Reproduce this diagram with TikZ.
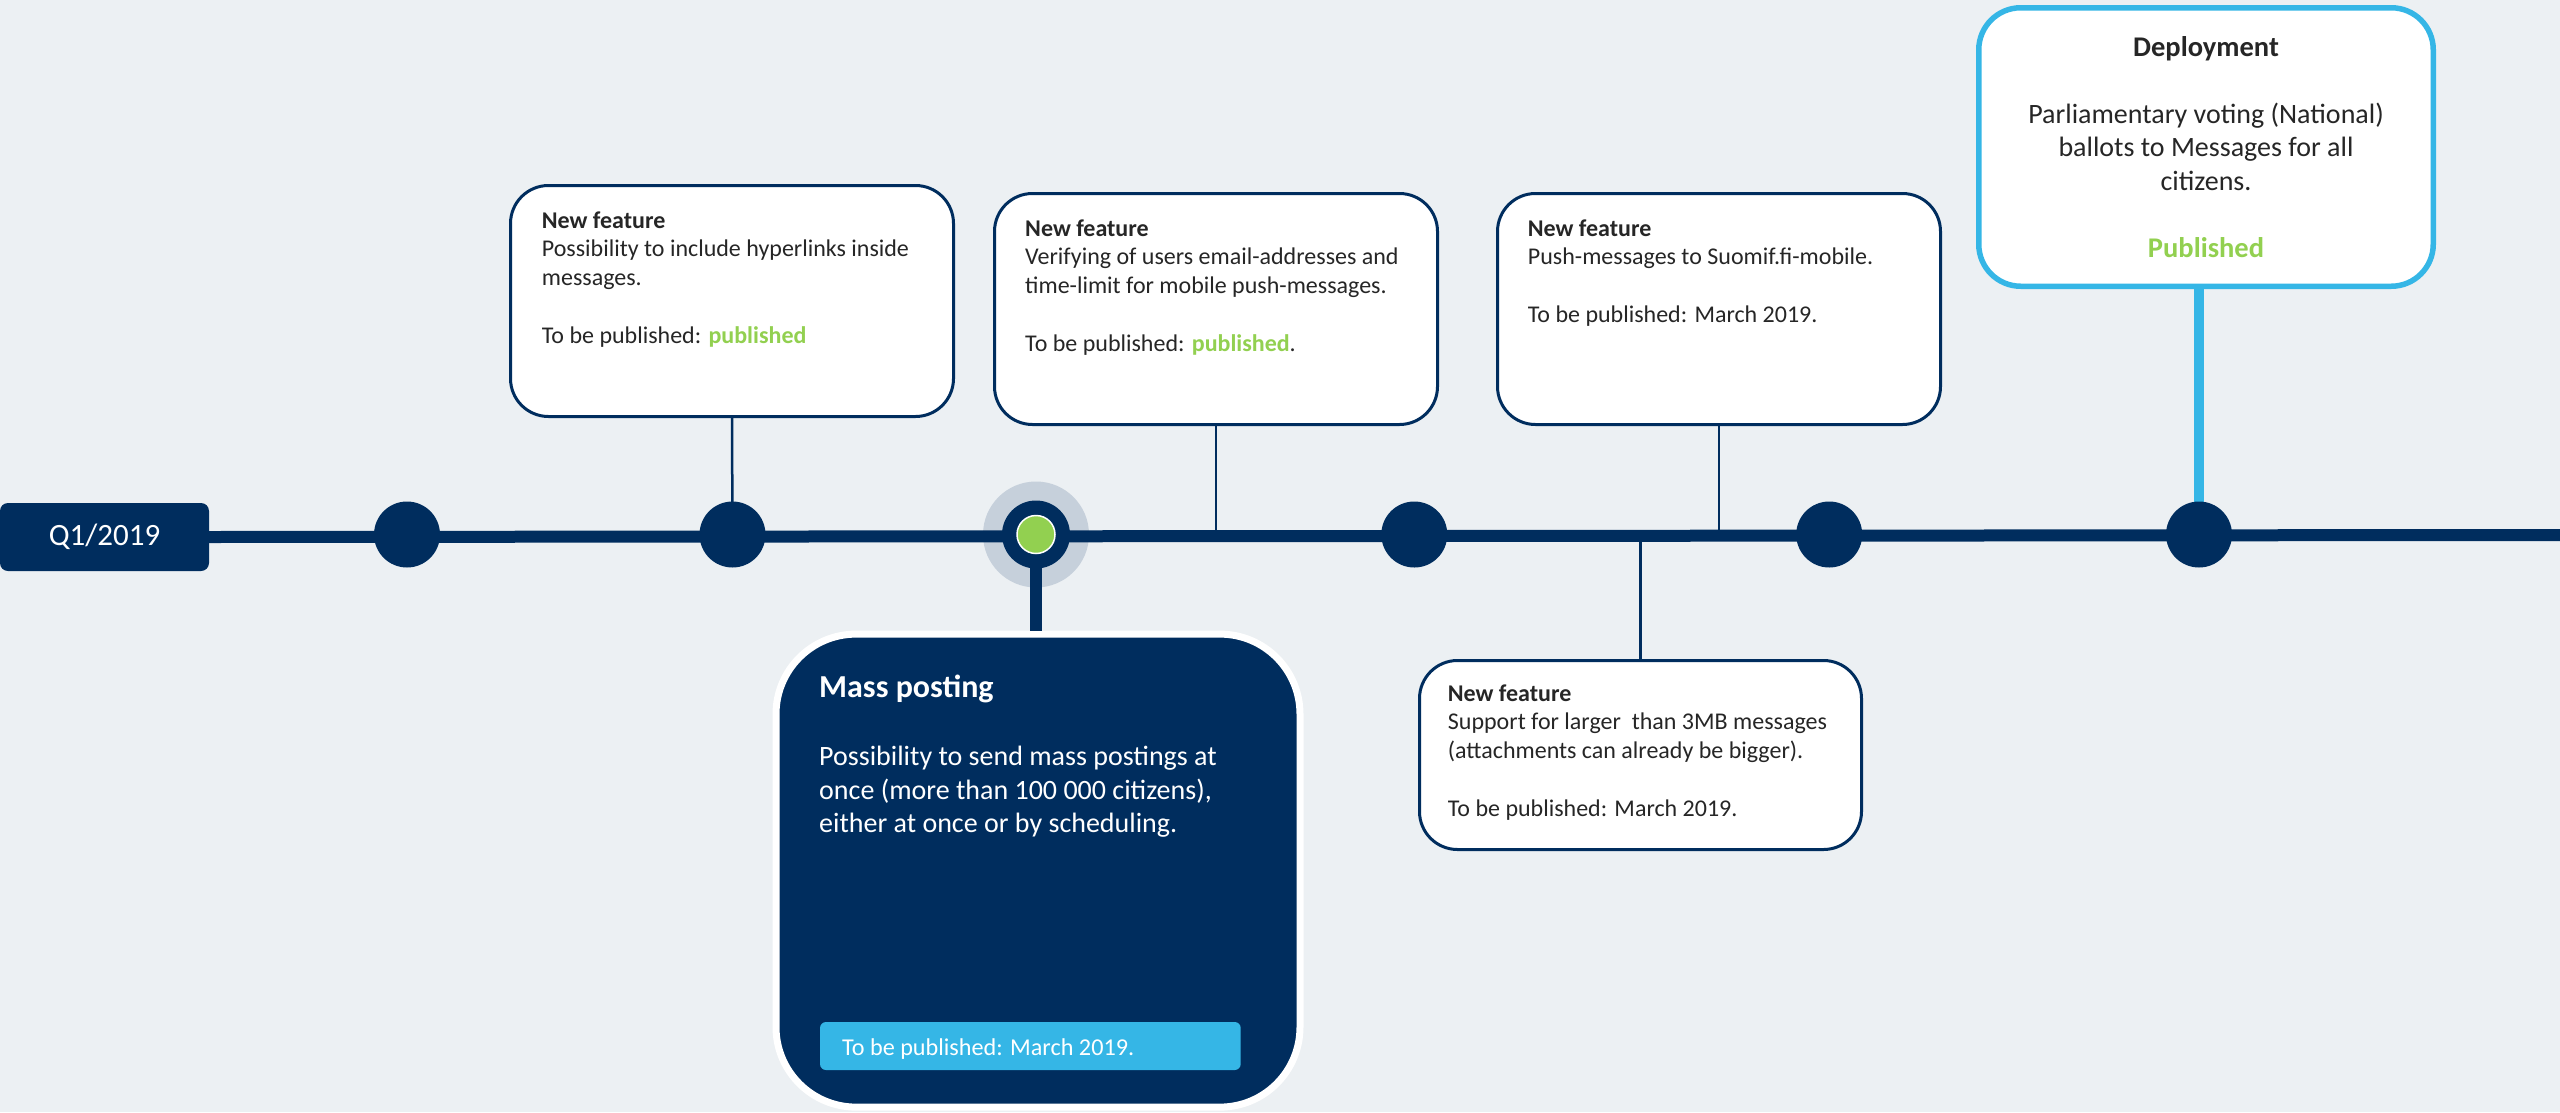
\documentclass[tikz,border=0pt]{standalone}
\usepackage{fontspec}
\setmainfont{Carlito}
\definecolor{bg}{HTML}{ECF0F3}
\definecolor{navy}{HTML}{002D5E}
\definecolor{halo}{HTML}{C6D0DB}
\definecolor{okgreen}{HTML}{92D050}
\definecolor{skyc}{HTML}{35B6E6}
\definecolor{ink}{HTML}{262626}
\newcommand\myfirst{\rule{0pt}{1em}}
\tikzset{
  card/.style={draw=navy, line width=3pt, fill=white, rounded corners=38pt, inner sep=0pt},
  tdot/.style={circle, fill=navy, minimum size=66pt, inner sep=0pt},
  thinstem/.style={draw=navy, line width=2.5pt},
  txt/.style={inner sep=0pt, text=ink, align=left, anchor=north west, font=\fontsize{24}{28.7}\selectfont},
}
\begin{document}
\begin{tikzpicture}[x=1pt,y=-1pt]
\useasboundingbox[fill=bg] (0,0) rectangle (2560,1112);

% start label
\node[fill=navy, rounded corners=8pt, minimum width=209pt, minimum height=68pt, inner sep=0pt,
      text=white, font=\fontsize{31}{36}\selectfont] (q1) at (104.5,537) {Q1/2019};
\coordinate (lineend) at (2560,535);

% circle positions
\coordinate (p1) at (407,534.5);
\coordinate (p2) at (732.5,534.5);
\coordinate (p3) at (1036,534.5);
\coordinate (p4) at (1414.3,534.5);
\coordinate (p5) at (1829.2,534.5);
\coordinate (p6) at (2199,534.5);

% cards
\node[card, minimum width=443pt, minimum height=231pt] (b1) at (732,301) {};
\node[card, minimum width=443pt, minimum height=231pt] (b2) at (1216,309) {};
\node[card, minimum width=443pt, minimum height=231pt] (b3) at (1719,309) {};
\node[card, minimum width=442pt, minimum height=189pt] (b4) at (1640.5,755) {};
\node[draw=skyc, line width=5.5pt, fill=white, rounded corners=42pt, inner sep=0pt,
      minimum width=454.5pt, minimum height=278.5pt] (bd) at (2206,147) {};
\node[draw=white, line width=7pt, fill=navy, rounded corners=80pt, inner sep=0pt,
      minimum width=524pt, minimum height=473pt] (mass) at (1038,870.6) {};

% halo behind the current point
\node[circle, fill=halo, minimum size=106pt, inner sep=0pt] (halo) at (p3) {};

% main line
\draw[navy, line width=12pt] (q1.east) -- (lineend);

% stems
\draw[thinstem] (b1.south) -- (p2);
\draw[thinstem] (b2.south) -- (b2.south |- lineend);
\draw[thinstem] (b3.south) -- (b3.south |- lineend);
\draw[thinstem] (b4.north) -- (b4.north |- lineend);
\draw[skyc, line width=10pt] (p6 |- bd.south) -- (p6);
\draw[navy, line width=12pt] (p3) -- (p3 |- mass.north);

% circles
\node[tdot] (c1) at (p1) {};
\node[tdot] (c2) at (p2) {};
\node[circle, fill=navy, minimum size=68pt, inner sep=0pt] (c3) at (p3) {};
\node[circle, fill=okgreen, draw=white, line width=1.5pt, minimum size=38pt, inner sep=0pt] (c3in) at (p3) {};
\node[tdot] (c4) at (p4) {};
\node[tdot] (c5) at (p5) {};
\node[tdot] (c6) at (p6) {};

% card texts
\node[txt] (t1) at (541.7,204) {\myfirst\textbf{New feature}\\
  Possibility to include hyperlinks inside\\
  messages.\\[28.7pt]
  To be published: \textbf{\textcolor{okgreen}{published}}};
\node[txt] (t2) at (1025,212) {\myfirst\textbf{New feature}\\
  Verifying of users email-addresses and\\
  time-limit for mobile push-messages.\\[28.7pt]
  To be published: \textbf{\textcolor{okgreen}{published}}.};
\node[txt] (t3) at (1527.7,212) {\myfirst\textbf{New feature}\\
  Push-messages to Suomif.fi-mobile.\\[28.7pt]
  To be published: March 2019.};
\node[txt] (t4) at (1447.7,677) {\myfirst\textbf{New feature}\\
  Support for larger\ \ than 3MB messages\\
  (attachments can already be bigger).\\[28.7pt]
  To be published: March 2019.};

% deployment card texts
\node[inner sep=0pt, anchor=base, text=ink, font=\fontsize{28.5}{32}\selectfont\bfseries] (dtitle) at (2206,56) {Deployment};
\node[inner sep=0pt, anchor=north, align=center, text=ink, font=\fontsize{28}{33.3}\selectfont] (dbody) at (2206,95.3)
  {\myfirst Parliamentary voting (National)\\ ballots to Messages for all\\ citizens.};
\node[inner sep=0pt, anchor=base, text=okgreen, font=\fontsize{28.5}{32}\selectfont\bfseries] (dstat) at (2206,257.3) {Published};

% mass posting texts
\node[inner sep=0pt, anchor=base west, text=white, font=\fontsize{32}{38}\selectfont\bfseries] (mtitle) at (819,697) {Mass posting};
\node[inner sep=0pt, anchor=north west, align=left, text=white, font=\fontsize{28}{33.3}\selectfont] (mbody) at (819,737.6)
  {\myfirst Possibility to send mass postings at\\ once (more than 100 000 citizens),\\ either at once or by scheduling.};
\node[fill=skyc, rounded corners=6pt, inner sep=0pt, minimum width=420.7pt, minimum height=48pt] (mbar) at (1030.35,1046) {};
\node[inner sep=0pt, anchor=base west, text=white, font=\fontsize{24.2}{28.7}\selectfont] (mstat) at (842,1055) {To be published: March 2019.};
\end{tikzpicture}
\end{document}
